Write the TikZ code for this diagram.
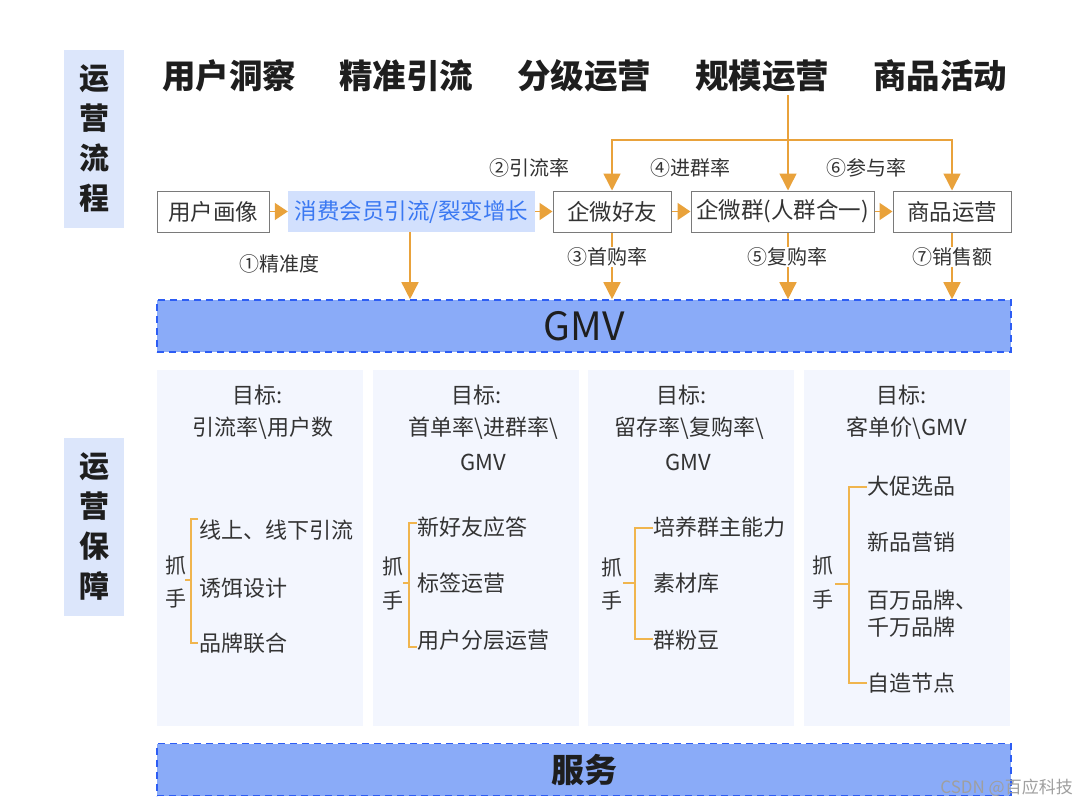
\documentclass[tikz,border=0pt]{standalone}
\usepackage{fontspec}
\setmainfont{Noto Sans CJK SC}
\usetikzlibrary{arrows.meta}
\definecolor{org}{HTML}{E9A23B}
\definecolor{orgl}{HTML}{F0B54E}
\definecolor{sidefill}{HTML}{DCE6FB}
\definecolor{xfill}{HTML}{D2E0FD}
\definecolor{xtext}{HTML}{3A78F2}
\definecolor{barfill}{HTML}{8AABF8}
\definecolor{barline}{HTML}{2D5DF4}
\definecolor{colfill}{HTML}{F3F6FE}
\definecolor{boxline}{HTML}{7A7A7A}
\definecolor{txt}{HTML}{333333}
\definecolor{dark}{HTML}{1E1E1E}
\tikzset{
  sidebox/.style={fill=sidefill, minimum width=60pt, minimum height=178pt, inner sep=0pt, align=center, text=dark, font=\fontsize{30}{40}\selectfont\bfseries},
  headtxt/.style={text=dark, font=\fontsize{33.5}{38}\selectfont\bfseries, inner sep=0pt},
  flowbox/.style={draw=boxline, line width=1pt, fill=white, minimum height=41pt, inner sep=0pt, text=txt, font=\fontsize{22.5}{26}\selectfont},
  xbox/.style={fill=xfill, minimum height=41pt, inner sep=0pt, text=xtext, font=\fontsize{22.5}{26}\selectfont},
  ratelbl/.style={fill=white, inner sep=1pt, text=txt, font=\fontsize{20}{23}\selectfont},
  arr/.style={draw=org, line width=1.5pt, -{Triangle[width=17pt,length=17pt,fill=org]}},
  harr/.style={draw=org, line width=1.5pt, -{Triangle[width=17pt,length=13pt,fill=org]}},
  bar/.style={fill=barfill, draw=barline, line width=1.6pt, dash pattern=on 7pt off 5pt, minimum width=854pt, minimum height=52pt, inner sep=0pt, text=dark},
  colbox/.style={fill=colfill, minimum width=206pt, minimum height=356pt, inner sep=0pt},
  goal/.style={text=txt, font=\fontsize{22}{26}\selectfont, inner sep=0pt},
  item/.style={text=txt, font=\fontsize{22}{26}\selectfont, inner sep=0pt, anchor=west},
  grip/.style={text=txt, font=\fontsize{21}{25}\selectfont, inner sep=0pt},
  brk/.style={draw=orgl, line width=1.3pt},
}
\begin{document}
\begin{tikzpicture}[x=1pt,y=-1pt]
\fill[white] (0,0) rectangle (1088,806);
\useasboundingbox (0,0) rectangle (1088,806);

% side labels
\node[sidebox] (s1) at (94,139) {运\\营\\流\\程};
\node[sidebox] (s2) at (94,526.5) {运\\营\\保\\障};

% headings
\node[headtxt] (h1) at (229,76) {用户洞察};
\node[headtxt] (h2) at (406,76) {精准引流};
\node[headtxt] (h3) at (584,76) {分级运营};
\node[headtxt] (h4) at (762,76) {规模运营};
\node[headtxt] (h5) at (940,76) {商品活动};

% flow boxes
\node[flowbox, minimum width=112pt] (hx) at (213,211.5) {用户画像};
\node[xbox, minimum width=247pt] (xf) at (411.5,211.5) {消费会员引流/裂变增长};
\node[flowbox, minimum width=118pt] (hy) at (612,211.5) {企微好友};
\node[flowbox, minimum width=183pt] (qq) at (782.5,211.5) {企微群(人群合一)};
\node[flowbox, minimum width=118pt] (sp) at (952,211.5) {商品运营};

% GMV bar
\node[bar, font=\fontsize{39}{44}\selectfont] (gmv) at (584,326) {GMV};

% horizontal arrows
\draw[harr] (hx.east) -- (xf.west);
\draw[harr] (xf.east) -- (hy.west);
\draw[harr] (hy.east) -- (qq.west);
\draw[harr] (qq.east) -- (sp.west);

% top arrows
\coordinate (gtop) at (788,95);
\coordinate (gmid) at (788,140);
\draw[arr] (gtop) -- ([xshift=5.5pt]qq.north);
\draw[arr] (gmid) -| (hy.north);
\draw[arr] (gmid) -| (sp.north);

% down arrows
\draw[arr] ([xshift=-1.5pt]xf.south) -- ([xshift=-1.5pt]xf.south |- gmv.north);
\draw[arr] (hy.south) -- (hy.south |- gmv.north);
\draw[arr] ([xshift=5.5pt]qq.south) -- ([xshift=5.5pt]qq.south |- gmv.north);
\draw[arr] (sp.south) -- (sp.south |- gmv.north);

% rate labels
\node[ratelbl] (r1) at (279,264) {①精准度};
\node[ratelbl] (r2) at (529,168) {②引流率};
\node[ratelbl] (r3) at (607,257) {③首购率};
\node[ratelbl] (r4) at (690,168) {④进群率};
\node[ratelbl] (r5) at (787,257) {⑤复购率};
\node[ratelbl] (r6) at (866,168) {⑥参与率};
\node[ratelbl] (r7) at (952,257) {⑦销售额};

% columns
\node[colbox] (c1) at (260,548) {};
\node[colbox] (c2) at (476,548) {};
\node[colbox] (c3) at (691,548) {};
\node[colbox] (c4) at (907,548) {};

% column 1
\node[goal] (g1a) at (258,395) {目标:};
\node[goal] (g1b) at (263,428) {引流率\textbackslash 用户数};
\node[grip] (z1a) at (176,565) {抓};
\node[grip] (z1b) at (176,598) {手};
\node[item] (i1a) at (199,530) {线上、线下引流};
\node[item] (i1b) at (199,588) {诱饵设计};
\node[item] (i1c) at (199,643) {品牌联合};
\draw[brk] (198,519) -- (191,519) -- (191,643) -- (198,643);
\draw[brk] (185,580) -- (191,580);

% column 2
\node[goal] (g2a) at (477,395) {目标:};
\node[goal] (g2b) at (483,428) {首单率\textbackslash 进群率\textbackslash};
\node[goal] (g2c) at (483,462) {GMV};
\node[grip] (z2a) at (393,566) {抓};
\node[grip] (z2b) at (393,600) {手};
\node[item] (i2a) at (417,527) {新好友应答};
\node[item] (i2b) at (417,583) {标签运营};
\node[item] (i2c) at (417,640) {用户分层运营};
\draw[brk] (417,523) -- (409,523) -- (409,647) -- (417,647);
\draw[brk] (403,583) -- (409,583);

% column 3
\node[goal] (g3a) at (682,395) {目标:};
\node[goal] (g3b) at (689,428) {留存率\textbackslash 复购率\textbackslash};
\node[goal] (g3c) at (688,462) {GMV};
\node[grip] (z3a) at (612,567) {抓};
\node[grip] (z3b) at (612,600) {手};
\node[item] (i3a) at (653,527) {培养群主能力};
\node[item] (i3b) at (653,583) {素材库};
\node[item] (i3c) at (653,640) {群粉豆};
\draw[brk] (653,528) -- (635,528) -- (635,639) -- (653,639);
\draw[brk] (623,583) -- (635,583);

% column 4
\node[goal] (g4a) at (902,395) {目标:};
\node[goal] (g4b) at (907,428) {客单价\textbackslash GMV};
\node[grip] (z4a) at (823,565) {抓};
\node[grip] (z4b) at (823,599) {手};
\node[item] (i4a) at (867,486) {大促选品};
\node[item] (i4b) at (867,542) {新品营销};
\node[item] (i4c) at (867,600) {百万品牌、};
\node[item] (i4d) at (867,627) {千万品牌};
\node[item] (i4e) at (867,683) {自造节点};
\draw[brk] (867,487) -- (849,487) -- (849,683) -- (867,683);
\draw[brk] (835,584) -- (849,584);

% service bar
\node[bar, font=\fontsize{33}{40}\selectfont\bfseries] (fw) at (584,769.5) {服务};

% watermark
\node[text=gray!75, font=\fontsize{17}{20}\selectfont, anchor=east, inner sep=0pt] (wm) at (1073,788) {CSDN @百应科技};
\end{tikzpicture}
\end{document}
